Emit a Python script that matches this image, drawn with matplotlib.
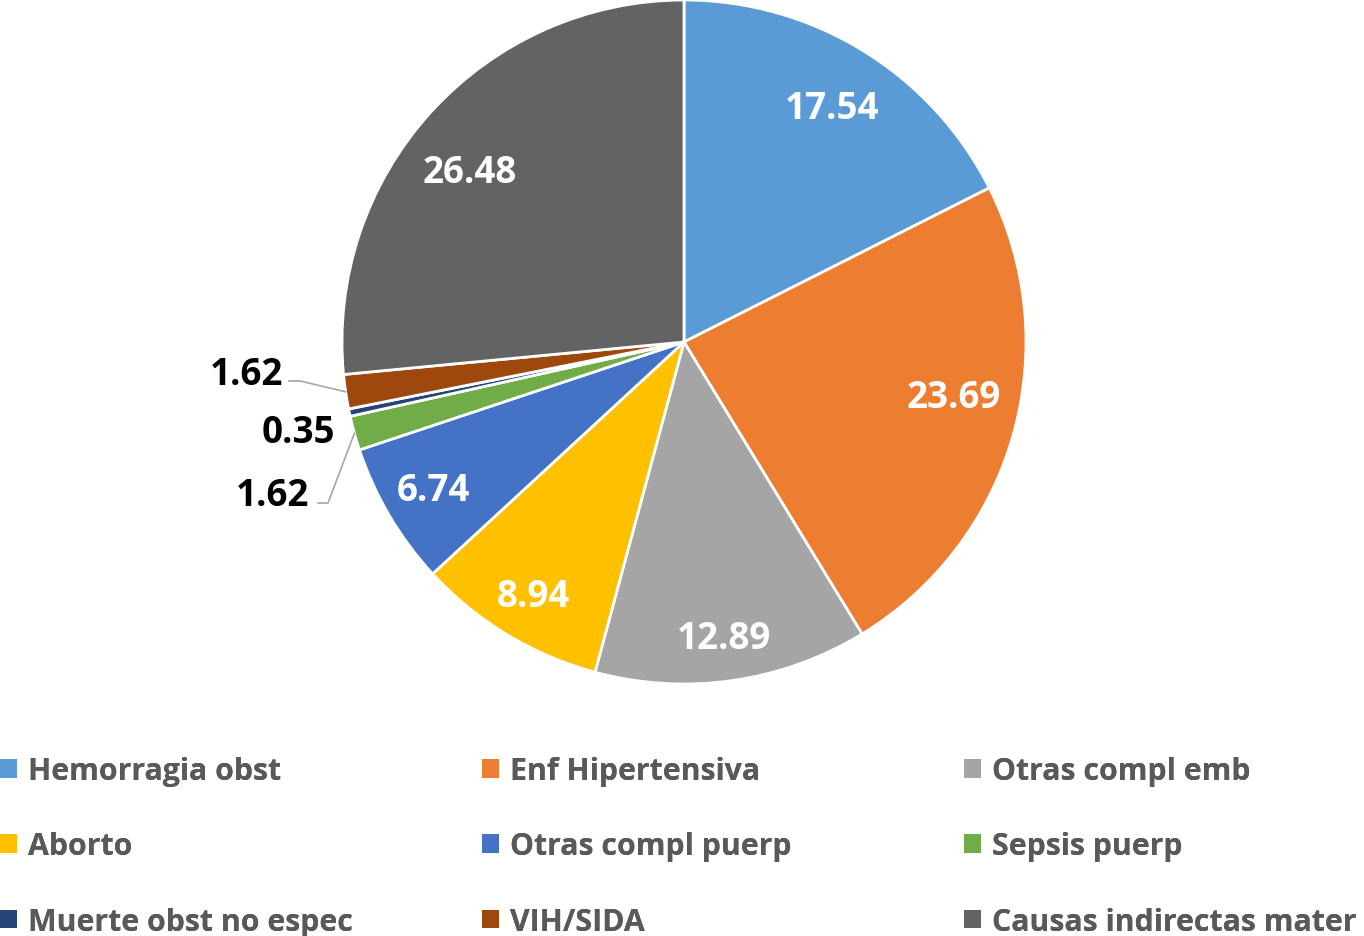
import matplotlib
matplotlib.use("Agg")
import matplotlib.pyplot as plt
import matplotlib.transforms as mtransforms
import numpy as np

categories = ["Hemorragia obst", "Enf Hipertensiva", "Otras compl emb", "Aborto",
              "Otras compl puerp", "Sepsis puerp", "Muerte obst no espec", "VIH/SIDA",
              "Causas indirectas mater"]
values = [17.54, 23.69, 12.89, 8.94, 6.74, 1.62, 0.35, 1.62, 26.48]
value_labels = ["17.54", "23.69", "12.89", "8.94", "6.74", "1.62", "0.35", "1.62", "26.48"]

colors = ["#5B9BD5", "#ED7D31", "#A5A5A5", "#FFC000", "#4472C4", "#70AD47",
          "#264478", "#9E480E", "#636363"]

W, H = 1364, 937
fig = plt.figure(figsize=(W / 100, H / 100), dpi=100)
cx, cy, R = 684, 343, 342
ax = fig.add_axes([(cx - R) / W, (H - cy - R) / H, 2 * R / W, 2 * R / H])
wedges, _ = ax.pie(values, colors=colors, startangle=90, counterclock=False,
                   wedgeprops=dict(edgecolor="white", linewidth=2), radius=1.0)
ax.set_xlim(-1, 1)
ax.set_ylim(-1, 1)
ax.set_aspect("equal")
ax.axis("off")

# small downward nudge so glyphs sit centred like the reference
ttrans = mtransforms.offset_copy(ax.transData, fig=fig, x=0, y=-3, units="dots")

FONT = "Open Sans"
FS = 26.5
# label placement style: radius (fraction) and angular nudge (deg, clockwise)
label_r = [0.816, 0.802, 0.865, 0.856, 0.847, None, None, None, 0.805]
label_da = [0.4, -5.1, 0.4, -0.2, 0.5, 0, 0, 0, -3.4]
for i, w in enumerate(wedges):
    mid = np.deg2rad((w.theta1 + w.theta2) / 2 - label_da[i])
    if label_r[i] is not None:
        r = label_r[i]
        ax.text(r * np.cos(mid), r * np.sin(mid), value_labels[i], ha="center", va="center",
                color="white", fontsize=FS, fontweight="bold", family=FONT, transform=ttrans)

def mid_pt(i, r=1.0):
    w = wedges[i]
    m = np.deg2rad((w.theta1 + w.theta2) / 2)
    return r * np.cos(m), r * np.sin(m)

# VIH/SIDA (index 7)
px, py = mid_pt(7)
ax.plot([px, -1.123, -1.155], [py, -0.114, -0.114], color="#A6A6A6", lw=1.2, clip_on=False)
ax.text(-1.173, -0.085, value_labels[7], ha="right", va="center", color="black",
        fontsize=FS, fontweight="bold", family=FONT, transform=ttrans)
# Muerte obst (index 6)
ax.text(-1.129, -0.254, value_labels[6], ha="center", va="center", color="black",
        fontsize=FS, fontweight="bold", family=FONT, transform=ttrans)
# Sepsis (index 5)
px, py = mid_pt(5)
ax.plot([px, -1.041, -1.070], [py, -0.471, -0.471], color="#A6A6A6", lw=1.2, clip_on=False)
ax.text(-1.202, -0.439, value_labels[5], ha="center", va="center", color="black",
        fontsize=FS, fontweight="bold", family=FONT, transform=ttrans)

# legend: three columns
col_x = [0, 482, 964]
for c in range(3):
    idx = [c + 3 * r for r in range(3)]
    leg = fig.legend([wedges[i] for i in idx], [categories[i] for i in idx],
                     loc="upper left", bbox_to_anchor=(col_x[c] / W, (H - 757) / H),
                     frameon=False, ncol=1, prop=dict(family=FONT, weight="bold", size=21.8),
                     handlelength=0.56, handleheight=0.56, handletextpad=0.36,
                     labelspacing=1.5, borderpad=0, borderaxespad=0)
    for t in leg.get_texts():
        t.set_color("#595959")
    for h in leg.legend_handles:
        h.set_edgecolor("none")
    fig.add_artist(leg)

fig.savefig("out.png", dpi=100)
